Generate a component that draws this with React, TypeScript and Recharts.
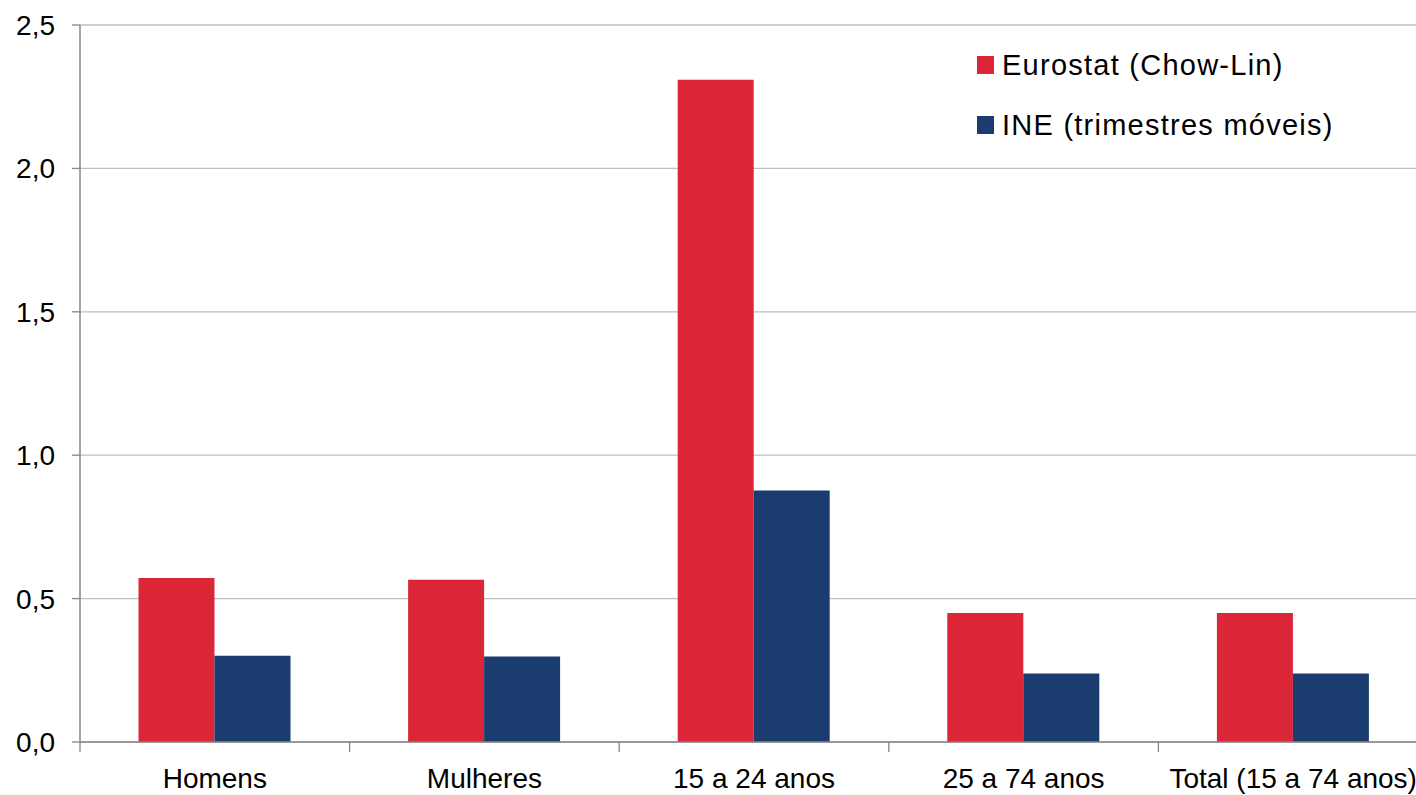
import { BarChart, Bar, XAxis, YAxis, CartesianGrid, Legend } from "recharts";

const categories = ["Homens", "Mulheres", "15 a 24 anos", "25 a 74 anos", "Total (15 a 74 anos)"];
const eurostatValues = [0.572, 0.566, 2.309, 0.45, 0.45];
const ineValues = [0.301, 0.298, 0.877, 0.239, 0.239];
const yTicks = [0, 0.5, 1, 1.5, 2, 2.5];

const data = categories.map((name, i) => ({
    name,
    eurostat: eurostatValues[i],
    ine: ineValues[i],
}));

const FONT = "'Liberation Sans', Arial, sans-serif";
const AXIS_GRAY = "#868686";
const CHART_W = 1440;
const CHART_H = 795;
const X_AXIS_H = 53;
const AXIS_Y = CHART_H - X_AXIS_H;
const PLOT_W = CHART_W - 80 - 12;

// category labels with the tick marks sitting on the band edges, like Excel
function CategoryTick(props: any) {
    const { x, y, payload } = props;
    const half = payload?.offset ?? PLOT_W / categories.length / 2;
    return (
        <g>
            <line x1={x - half} x2={x - half} y1={AXIS_Y} y2={AXIS_Y + 10} stroke={AXIS_GRAY} strokeWidth={1.3} />
            <text x={x} y={y} dy="0.71em" textAnchor="middle" fontSize={28} fill="#000" fontFamily={FONT}>
                {payload.value}
            </text>
        </g>
    );
}

function LegendBox(props: any) {
    const items = props.payload || [];
    return (
        <div style={{ fontFamily: FONT, fontSize: 29, letterSpacing: 1.25, color: "#000" }}>
            {items.map((item: any) => (
                <div key={item.value} style={{ display: "flex", alignItems: "center", height: 60, whiteSpace: "nowrap" }}>
                    <span style={{ display: "inline-block", width: 17, height: 18, background: item.color, marginRight: 8 }} />
                    <span>{item.value}</span>
                </div>
            ))}
        </div>
    );
}

export default function App() {
    return (
        <div style={{ position: "fixed", left: 0, top: 0, width: 1416, height: 795, overflow: "hidden", background: "#fff" }}>
            <BarChart
                width={CHART_W}
                height={CHART_H}
                data={data}
                margin={{ top: 25, right: 12, left: 0, bottom: 0 }}
                barCategoryGap="21.7%"
                barGap={0}
            >
                <CartesianGrid vertical={false} stroke="#BFBFBF" strokeWidth={1.3} />
                <XAxis
                    dataKey="name"
                    height={X_AXIS_H}
                    interval={0}
                    tickLine={false}
                    tickSize={0}
                    tickMargin={26}
                    axisLine={{ stroke: AXIS_GRAY, strokeWidth: 1.5 }}
                    tick={<CategoryTick />}
                />
                <YAxis
                    width={80}
                    domain={[0, 2.5]}
                    ticks={yTicks}
                    interval={0}
                    tickSize={8}
                    tickMargin={17}
                    tickFormatter={(v: number) => v.toFixed(1).replace(".", ",")}
                    tick={{ fontSize: 28, fill: "#000", fontFamily: FONT }}
                    axisLine={{ stroke: AXIS_GRAY, strokeWidth: 1.5 }}
                    tickLine={{ stroke: AXIS_GRAY, strokeWidth: 1.3 }}
                />
                <Legend
                    layout="vertical"
                    align="center"
                    verticalAlign="middle"
                    content={<LegendBox />}
                    wrapperStyle={{ left: 977, top: 35, width: 420, height: 120 }}
                />
                <Bar dataKey="eurostat" name="Eurostat (Chow-Lin)" fill="#DA2637" isAnimationActive={false} />
                <Bar dataKey="ine" name="INE (trimestres móveis)" fill="#1A3C6E" isAnimationActive={false} />
            </BarChart>
        </div>
    );
}
